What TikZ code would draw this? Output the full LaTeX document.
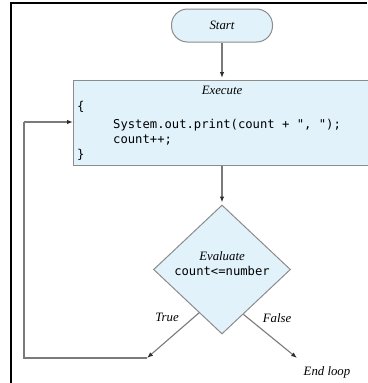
\documentclass[tikz,border=0pt]{standalone}
\usepackage{fontspec}
\setmainfont{Liberation Serif}
\setmonofont{DejaVu Sans Mono}
\usetikzlibrary{shapes.geometric,arrows.meta,calc}

\definecolor{boxblue}{HTML}{E1F2FB}
\definecolor{edgegray}{HTML}{8C8C8C}
\definecolor{linegray}{HTML}{7A7A7A}
\definecolor{tipgray}{HTML}{2E2E2E}

\begin{document}
\begin{tikzpicture}[x=1pt,y=-1pt,
  box/.style={draw=edgegray, fill=boxblue, line width=1pt},
  flow/.style={draw=linegray, line width=1.1pt, -{Latex[length=6pt,width=4.5pt,color=tipgray]}},
  wire/.style={draw=linegray, line width=1.1pt},
  lbl/.style={font=\itshape\fontsize{12.8}{14}\selectfont, inner sep=0pt},
  code/.style={font=\ttfamily\fontsize{12.2}{14}\selectfont, inner sep=0pt, anchor=west}]

  \useasboundingbox (0,0) rectangle (367,383);
  \fill[white] (0,0) rectangle (367,383);

  % outer frame
  \draw[line width=1.4pt] (11,383) -- (11,3) -- (367,3);

  % start terminal
  \node[box, rounded corners=16pt, minimum width=101pt, minimum height=33pt,
        font=\itshape\fontsize{12.8}{14}\selectfont] (start) at (222,25.5) {Start};

  % loop body
  \node[box, anchor=north west, minimum width=297pt, minimum height=85pt, inner sep=0pt]
        (exec) at (73,80) {};
  \node[lbl] (exectitle) at (222,90) {Execute};
  \node[code] (open)  at (77,107) {\{};
  \node[code] (line1) at (113,125) {System.out.print(count + ", ");};
  \node[code] (line2) at (113,140) {count++;};
  \node[code] (close) at (77,155) {\}};

  % condition
  \node[box, diamond, minimum width=137pt, minimum height=129pt, inner sep=0pt]
        (eval) at (222,269.5) {};
  \node[lbl] (evaltitle) at (222,256) {Evaluate};
  \node[code, anchor=center] (cond) at (222,271) {count<=number};

  % connectors
  \draw[flow] (start.south) -- ([yshift=2pt]start.south |- exec.north);
  \draw[flow] (eval.north |- exec.south) -- ([yshift=2pt]eval.north);

  \coordinate (tend) at (147,358);
  \coordinate (fend) at (297,358);
  \coordinate (corner) at (24,358);
  \coordinate (entry) at (24,122);

  \draw[flow] ($(eval.west)!0.667!(eval.south)$) -- (tend);
  \draw[flow] ($(eval.south)!0.31!(eval.east)$) -- (fend);
  \draw[wire] (tend) -- (corner) -- (entry);
  \draw[flow] (entry) -- (exec.west |- entry);

  % branch labels
  \node[lbl] (truelbl)  at (167,317) {True};
  \node[lbl] (falselbl) at (277,318) {False};
  \node[lbl] (endlbl)   at (327,372) {End loop};
\end{tikzpicture}
\end{document}
